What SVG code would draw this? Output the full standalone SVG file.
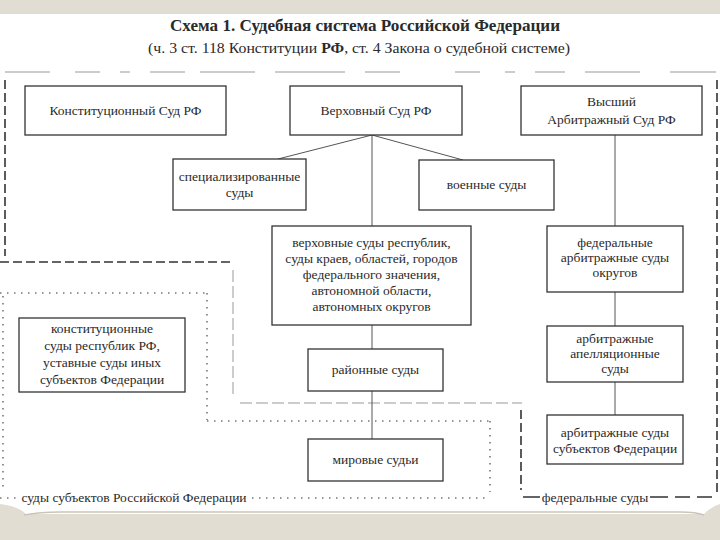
<svg xmlns="http://www.w3.org/2000/svg" width="720" height="540" viewBox="0 0 720 540">
<style>
.t{font-family:"Liberation Serif","Times New Roman",serif;font-size:13.5px;fill:#2a2a2a;text-anchor:middle}
.box{fill:#fff;stroke:#333;stroke-width:1.3}
.con{stroke:#555;stroke-width:1;fill:none}
.dot{stroke:#777;stroke-width:1.6;stroke-dasharray:1.5 5.5;fill:none}
.dashL{stroke:#999;stroke-width:1;stroke-dasharray:12 4;fill:none}
.dashD{stroke:#333;stroke-width:1.6;stroke-dasharray:9 4;fill:none}
</style>
<rect width="720" height="540" fill="#e1ddd3"/>
<path d="M0 14 H720 V504 Q712 506 704 514 H26 Q18 506 0 504 Z" fill="#fff"/>
<path d="M24 515 Q40 512 60 512 H680 Q696 512 704 515" stroke="#c9c5bb" stroke-width="1.5" fill="none"/>
<g id="title">
<text x="365" y="31" class="t" style="font-size:16px;font-weight:bold" textLength="390" lengthAdjust="spacingAndGlyphs">Схема 1. Судебная система Российской Федерации</text>
<text x="359" y="53" class="t" style="font-size:14px" textLength="422" lengthAdjust="spacingAndGlyphs">(ч. 3 ст. 118 Конституции <tspan font-weight="bold">РФ</tspan>, ст. 4 Закона о судебной системе)</text>
</g>
<g id="regions">
<path d="M5 72H50M75 72H100M120 72H130M150 72H185M200 72H255M275 72H345M365 72H400M455 72H480M505 72H515M535 72H565M585 72H640M670 72H716" stroke="#999" stroke-width="1" fill="none"/>
<path class="dashD" d="M5 80V256"/>
<path class="dashD" d="M0 262H232"/>
<path class="dashD" d="M717 80V492"/>
<path class="dashL" d="M233 270V396" stroke-dasharray="10 4"/>
<path class="dashL" d="M240 403H522" stroke="#aaa"/>
<path class="dashD" d="M521 410V490"/>
<path class="dot" d="M0 293H208M207 293V420M207 421H490M490 421V492M3 296V492M0 498H18M252 498H490"/>
<path d="M523 497H540M650 497H668M675 497H690M697 497H712" stroke="#333" stroke-width="1.3"/>
<text x="134" y="502" class="t">суды субъектов Российской Федерации</text>
<text x="595" y="502" class="t">федеральные суды</text>
</g>
<g id="connectors">
<path class="con" d="M372 135L278 159M372 135L463 160"/>
<path class="con" stroke="#999" d="M372 135V226M372 325V349M372 391V439"/>
<path class="con" d="M615 135V226M615 292V326M615 382V415"/>
</g>
<g id="n1"><rect class="box" x="25" y="86" width="201" height="49"/><text class="t" x="125.5" y="115">Конституционный Суд РФ</text></g>
<g id="n2"><rect class="box" x="290" y="86" width="172" height="49"/><text class="t" x="376" y="115">Верховный Суд РФ</text></g>
<g id="n3"><rect class="box" x="521" y="86" width="181" height="49"/><text class="t" x="611.5" y="106">Высший</text><text class="t" x="611.5" y="124">Арбитражный Суд РФ</text></g>
<g id="n4"><rect class="box" x="173" y="159" width="133" height="51"/><text class="t" x="239.5" y="181">специализированные</text><text class="t" x="239.5" y="197">суды</text></g>
<g id="n5"><rect class="box" x="419" y="160" width="135" height="50"/><text class="t" x="486.5" y="189">военные суды</text></g>
<g id="n6"><rect class="box" x="272" y="226" width="199" height="99"/>
<text class="t" x="371.5" y="247">верховные суды республик,</text>
<text class="t" x="371.5" y="263">суды краев, областей, городов</text>
<text class="t" x="371.5" y="279">федерального значения,</text>
<text class="t" x="371.5" y="295">автономной области,</text>
<text class="t" x="371.5" y="311">автономных округов</text></g>
<g id="n7"><rect class="box" x="308" y="349" width="135" height="42"/><text class="t" x="375.5" y="374">районные суды</text></g>
<g id="n8"><rect class="box" x="308" y="439" width="135" height="42"/><text class="t" x="375.5" y="464">мировые судьи</text></g>
<g id="n9"><rect class="box" x="19" y="318" width="166" height="74"/>
<text class="t" x="102" y="333">конституционные</text>
<text class="t" x="102" y="350">суды республик РФ,</text>
<text class="t" x="102" y="367">уставные суды иных</text>
<text class="t" x="102" y="384">субъектов Федерации</text></g>
<g id="n10"><rect class="box" x="547" y="226" width="136" height="66"/>
<text class="t" x="615" y="247">федеральные</text>
<text class="t" x="615" y="262">арбитражные суды</text>
<text class="t" x="615" y="277">округов</text></g>
<g id="n11"><rect class="box" x="547" y="326" width="136" height="56"/>
<text class="t" x="615" y="343">арбитражные</text>
<text class="t" x="615" y="358">апелляционные</text>
<text class="t" x="615" y="373">суды</text></g>
<g id="n12"><rect class="box" x="547" y="415" width="136" height="49"/>
<text class="t" x="615" y="437">арбитражные суды</text>
<text class="t" x="615" y="453">субъектов Федерации</text></g>
</svg>
